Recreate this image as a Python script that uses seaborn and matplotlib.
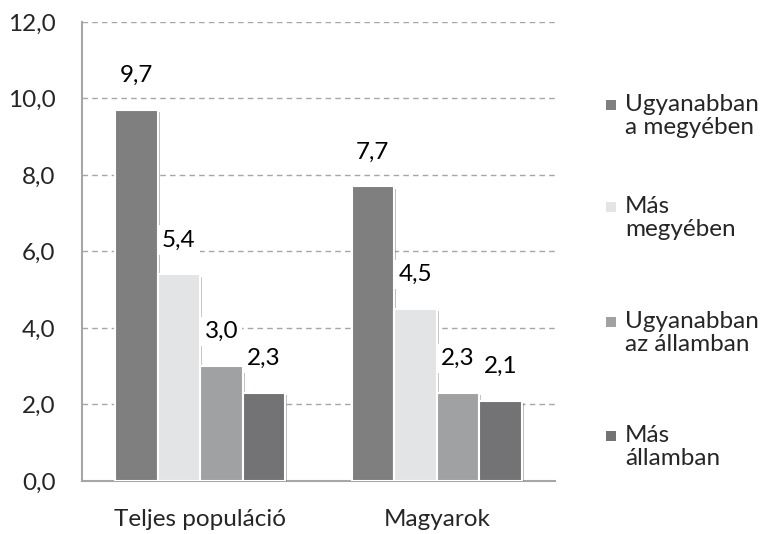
import pandas as pd
import matplotlib.pyplot as plt
import matplotlib.patheffects as pe
from matplotlib.patches import Rectangle
import seaborn as sns

# Adatok
csoportok = ['Teljes populáció', 'Magyarok']
sorozatok = ['Ugyanabban\na megyében', 'Más\nmegyében', 'Ugyanabban\naz államban', 'Más\nállamban']
teljes = [9.7, 5.4, 3.0, 2.3]
magyarok = [7.7, 4.5, 2.3, 2.1]
szinek = ['#7f7f80', '#e3e4e6', '#a0a1a3', '#737375']
y_ticks = [0, 2, 4, 6, 8, 10, 12]

FS = 17.5


def main():
    rows = []
    for s, a, b in zip(sorozatok, teljes, magyarok):
        rows.append({'csoport': csoportok[0], 'sorozat': s, 'ertek': a})
        rows.append({'csoport': csoportok[1], 'sorozat': s, 'ertek': b})
    df = pd.DataFrame(rows)

    sns.set_style('white')
    plt.rcParams['font.family'] = ['Lato', 'DejaVu Sans']

    fig = plt.figure(figsize=(7.64, 5.34), dpi=100)
    ax = fig.add_axes([0.1073, 0.0993, 0.6191, 0.8595])

    sns.barplot(data=df, x='csoport', y='ertek', hue='sorozat', order=csoportok,
                hue_order=sorozatok, palette=szinek, width=0.72, saturation=1,
                edgecolor='white', linewidth=1.5, legend=False, ax=ax, zorder=3)

    for bar in ax.patches:
        bar.set_path_effects([pe.SimplePatchShadow(offset=(1.5, -1.5), alpha=0.3),
                              pe.Normal()])

    # Értékcímkék fehér háttérrel
    for cont in ax.containers:
        for bar in cont:
            h = bar.get_height()
            ax.text(bar.get_x() + bar.get_width() / 2, h + 0.9,
                    f'{h:.1f}'.replace('.', ','), ha='center', va='center',
                    fontsize=FS, color='black', zorder=5,
                    bbox=dict(facecolor='white', edgecolor='none', pad=3))

    ax.set_ylim(0, 12)
    ax.set_xlim(-0.5, 1.5)
    ax.set_yticks(y_ticks)
    ax.set_yticklabels([f'{v:.1f}'.replace('.', ',') for v in y_ticks], fontsize=FS)

    ax.set_xticks([-0.5, 0.5, 1.5])
    ax.set_xticklabels(['', '', ''])
    ax.set_xticks([0, 1], minor=True)
    ax.set_xticklabels(csoportok, minor=True, fontsize=FS)
    ax.tick_params(axis='x', which='major', length=6, width=1.2, color='#a6a6a6', direction='out')
    ax.tick_params(axis='x', which='minor', length=0, pad=20)
    ax.tick_params(axis='y', length=8, width=1.2, color='#a6a6a6', direction='out', pad=11)
    ax.set_xlabel('')
    ax.set_ylabel('')

    ax.yaxis.grid(True, linestyle=(0, (4, 3)), color='#a6a6a6', linewidth=1)
    ax.set_axisbelow(True)
    for side in ['top', 'right']:
        ax.spines[side].set_visible(False)
    for side in ['left', 'bottom']:
        ax.spines[side].set_color('#a6a6a6')
        ax.spines[side].set_linewidth(1.5)

    # Jelmagyarázat kézzel
    y_pos = [105, 207, 322, 436]
    for lab, col, yp in zip(sorozatok, szinek, y_pos):
        fig.patches.append(Rectangle((606 / 764, 1 - (yp + 5) / 534), 10 / 764, 10 / 534,
                                     transform=fig.transFigure, facecolor=col,
                                     edgecolor='none', figure=fig))
        fig.text(625 / 764, 1 - (yp - 11) / 534, lab, fontsize=FS, va='top', ha='left',
                 linespacing=1.12)

    fig.savefig('out.png', dpi=100)


if __name__ == "__main__":
    main()
